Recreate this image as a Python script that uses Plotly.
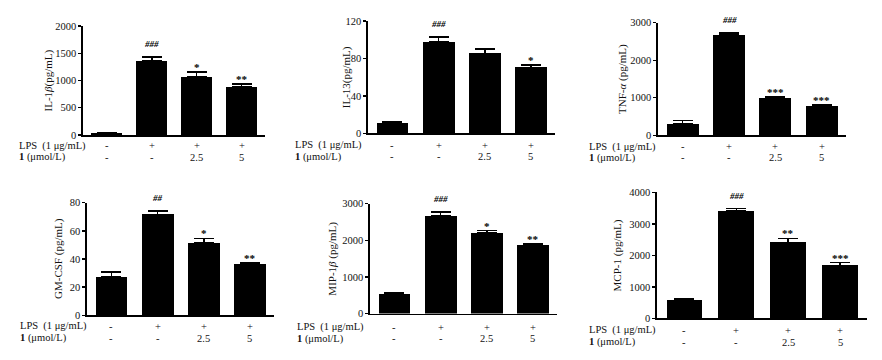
import plotly.graph_objects as go

W, H = 882, 360

groups = [0, 1, 2, 3]
lps_signs = ["-", "+", "+", "+"]
cmpd_signs = ["-", "-", "2.5", "5"]

il1b = [30, 1365, 1068, 877]
il1b_err = [5, 71, 83, 54]
il13 = [11, 98.2, 85.4, 70.6]
il13_err = [1, 4.6, 4.5, 2.4]
tnfa = [310, 2679, 990, 791]
tnfa_err = [86, 52, 35, 26]
gmcsf = [27.1, 71.7, 51.3, 36.6]
gmcsf_err = [3.5, 2.6, 3.4, 0.7]
mip1b = [530, 2666, 2207, 1881]
mip1b_err = [26, 115, 61, 27]
mcp1 = [594, 3405, 2410, 1682]
mcp1_err = [41, 82, 133, 92]

sig_il1b = ["", "###", "*", "**"]
sig_il13 = ["", "###", "", "*"]
sig_tnfa = ["", "###", "***", "***"]
sig_gmcsf = ["", "##", "*", "**"]
sig_mip1b = ["", "###", "*", "**"]
sig_mcp1 = ["", "###", "**", "***"]

titles = ["IL-1<i>β</i>(pg/mL)", "IL-13(pg/mL)", "TNF-<i>α</i> (pg/mL)",
          "GM-CSF (pg/mL)", "MIP-1<i>β</i> (pg/mL)", "MCP-1 (pg/mL)"]
yranges = [2000, 120, 3000, 80, 3000, 4000]
ydticks = [500, 40, 1000, 20, 1000, 1000]

panels = [
    dict(v=il1b, e=il1b_err, s=sig_il1b, x0=83, x1=265, yt=21.7, yb=134, tx=48, lx=17, ly1=145.2, ly2=157),
    dict(v=il13, e=il13_err, s=sig_il13, x0=368, x1=555, yt=16.7, yb=132.3, tx=346, lx=293, ly1=144.5, ly2=156.3),
    dict(v=tnfa, e=tnfa_err, s=sig_tnfa, x0=658, x1=846, yt=18.3, yb=134.3, tx=623, lx=587, ly1=146, ly2=157.8),
    dict(v=gmcsf, e=gmcsf_err, s=sig_gmcsf, x0=87, x1=274, yt=204, yb=320, tx=59, lx=18, ly1=331.5, ly2=343.5),
    dict(v=mip1b, e=mip1b_err, s=sig_mip1b, x0=370, x1=557, yt=205, yb=318.3, tx=333, lx=295, ly1=332.3, ly2=344.3),
    dict(v=mcp1, e=mcp1_err, s=sig_mcp1, x0=657, x1=867, yt=193.3, yb=323.3, tx=617, lx=587, ly1=335.5, ly2=348),
]

FONT = "Liberation Serif"
TXT = "#111111"
XR = [-0.53, 3.52]
ROWFONT = 10.5

fig = go.Figure()
annotations = []
layout = {}

for i, p in enumerate(panels):
    n = i + 1
    xa = "x" if n == 1 else f"x{n}"
    ya = "y" if n == 1 else f"y{n}"
    xkey = "xaxis" if n == 1 else f"xaxis{n}"
    ykey = "yaxis" if n == 1 else f"yaxis{n}"
    fig.add_trace(go.Bar(
        x=groups, y=p["v"], width=0.69,
        marker=dict(color="black", line=dict(width=0)),
        error_y=dict(type="data", array=p["e"], arrayminus=[0] * 4, symmetric=False,
                     color="black", thickness=1.6, width=10),
        xaxis=xa, yaxis=ya, showlegend=False, hoverinfo="skip",
    ))
    layout[xkey] = dict(domain=[p["x0"] / W, p["x1"] / W], range=XR, anchor=ya,
                        showticklabels=False, ticks="", showgrid=False, zeroline=False,
                        showline=True, linecolor="black", linewidth=1.6, fixedrange=True)
    layout[ykey] = dict(domain=[1 - p["yb"] / H, 1 - p["yt"] / H], range=[0, yranges[i]],
                        anchor=xa, dtick=ydticks[i], tick0=0, ticks="outside", ticklen=3,
                        tickwidth=1.4, tickcolor="black", showgrid=False, zeroline=False,
                        showline=True, linecolor="black", linewidth=1.6, fixedrange=True,
                        tickfont=dict(family=FONT, size=10.5, color=TXT))
    annotations.append(dict(text=titles[i], x=p["tx"] / W, y=1 - (p["yt"] + p["yb"]) / 2 / H,
                            xref="paper", yref="paper", textangle=-90, showarrow=False,
                            font=dict(family=FONT, size=11, color=TXT),
                            xanchor="center", yanchor="middle"))
    annotations.append(dict(text="LPS  (1 μg/mL)", x=p["lx"] / W, y=1 - p["ly1"] / H,
                            xref="paper", yref="paper", showarrow=False, xanchor="left",
                            yanchor="middle", font=dict(family=FONT, size=ROWFONT, color=TXT)))
    annotations.append(dict(text="<b>1</b> (μmol/L)", x=p["lx"] / W, y=1 - p["ly2"] / H,
                            xref="paper", yref="paper", showarrow=False, xanchor="left",
                            yanchor="middle", font=dict(family=FONT, size=ROWFONT, color=TXT)))
    for g in groups:
        annotations.append(dict(text=lps_signs[g], x=g, y=1 - p["ly1"] / H, xref=xa, yref="paper",
                                showarrow=False, xanchor="center", yanchor="middle",
                                font=dict(family=FONT, size=ROWFONT, color=TXT)))
        annotations.append(dict(text=cmpd_signs[g], x=g, y=1 - p["ly2"] / H, xref=xa, yref="paper",
                                showarrow=False, xanchor="center", yanchor="middle",
                                font=dict(family=FONT, size=ROWFONT, color=TXT)))
        if p["s"][g]:
            is_hash = "#" in p["s"][g]
            annotations.append(dict(text=f"<b><i>{p['s'][g]}</i></b>" if is_hash else f"<b>{p['s'][g]}</b>",
                                    x=g, y=p["v"][g] + p["e"][g], xref=xa, yref=ya,
                                    showarrow=False, xanchor="center", yanchor="bottom",
                                    yshift=6 if is_hash else -3,
                                    font=dict(family=FONT, size=9 if is_hash else 11, color="black")))

fig.update_layout(**layout)
fig.update_layout(width=W, height=H, margin=dict(l=0, r=0, t=0, b=0),
                  paper_bgcolor="white", plot_bgcolor="white", bargap=0,
                  annotations=annotations, showlegend=False, hovermode=False)

fig.write_html("out.html", config={"displayModeBar": False, "staticPlot": True},
               post_script="document.body.style.margin='0';document.body.style.overflow='hidden';")
